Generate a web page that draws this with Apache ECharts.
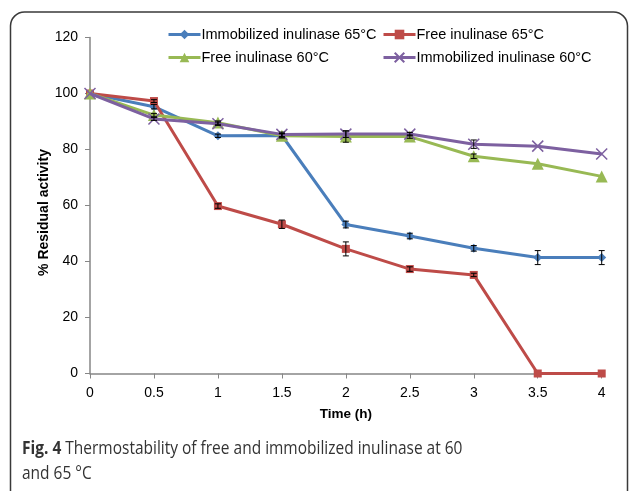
<!DOCTYPE html>
<html>
<head>
<meta charset="utf-8">
<script src="https://cdn.jsdelivr.net/npm/echarts@6/dist/echarts.min.js"></script>
<style>
  html, body { margin: 0; padding: 0; background: #fff; }
  #chart { width: 629px; height: 491px; }
</style>
</head>
<body>
<div id="chart"></div>
<script>
// Time points (h)
const times = [0, 0.5, 1, 1.5, 2, 2.5, 3, 3.5, 4];

// % residual activity for each preparation
const immob65 = [100, 95.3, 84.9, 85, 53.2, 49.1, 44.7, 41.4, 41.4];
const free65  = [100, 97.3, 59.8, 53.3, 44.5, 37.3, 35.2, 0, 0];
const free60  = [100, 92.3, 89.6, 84.9, 84.6, 84.6, 77.6, 74.9, 70.4];
const immob60 = [100, 90.9, 89.2, 85.4, 85.5, 85.5, 81.9, 81.2, 78.4];

// Standard deviations (error bars)
const immob65Err = [0, 0.8, 0.6, 0.6, 1.2, 1.0, 1.0, 2.5, 2.5];
const free65Err  = [0, 0.5, 0.8, 1.5, 2.5, 0.8, 0.6, 0, 0];
const free60Err  = [0, 0.6, 0.6, 0.8, 2.0, 0.6, 0.8, 0, 0];
const immob60Err = [0, 0.5, 0.6, 0.8, 1.2, 0.6, 1.5, 0, 0];

const seriesNames = ['Immobilized inulinase 65°C', 'Free inulinase 65°C', 'Free inulinase 60°C', 'Immobilized inulinase 60°C'];
const seriesColors = ['#4a7ebb', '#be4b48', '#98b954', '#7d60a0'];
const yTicks = [0, 20, 40, 60, 80, 100, 120];
const xTicks = ['0', '0.5', '1', '1.5', '2', '2.5', '3', '3.5', '4'];

const chart = echarts.init(document.getElementById('chart'), null, { renderer: 'canvas' });

const pairs = (vals) => times.map((t, i) => [t, vals[i]]);
const errData = (vals, errs) => times.map((t, i) => [t, vals[i] - errs[i], vals[i] + errs[i]]).filter((d, i) => errs[i] > 0);

const crossPath = 'path://M0,0L10,10M10,0L0,10';
const sansFont = 'Liberation Sans, Arial, sans-serif';

function lineSeries(idx, vals, symbol, size, extra) {
  return Object.assign({
    name: seriesNames[idx],
    type: 'line',
    data: pairs(vals),
    symbol: symbol,
    symbolSize: size,
    color: seriesColors[idx],
    lineStyle: { width: 3, color: seriesColors[idx] },
    itemStyle: { color: seriesColors[idx] },
    z: 2 + idx
  }, extra || {});
}

function errorSeries(vals, errs) {
  return {
    type: 'custom',
    silent: true,
    z: 10,
    data: errData(vals, errs),
    renderItem: function (params, api) {
      const x = api.value(0);
      const lo = api.coord([x, api.value(1)]);
      const hi = api.coord([x, api.value(2)]);
      const cap = 3;
      const style = { stroke: '#000', lineWidth: 1 };
      return {
        type: 'group',
        children: [
          { type: 'line', shape: { x1: lo[0], y1: lo[1], x2: hi[0], y2: hi[1] }, style: style },
          { type: 'line', shape: { x1: lo[0] - cap, y1: lo[1], x2: lo[0] + cap, y2: lo[1] }, style: style },
          { type: 'line', shape: { x1: hi[0] - cap, y1: hi[1], x2: hi[0] + cap, y2: hi[1] }, style: style }
        ]
      };
    }
  };
}

function legendAt(name, left, top) {
  return {
    data: [name],
    left: left,
    top: top,
    itemWidth: 32,
    itemHeight: 12,
    itemGap: 0,
    padding: 0,
    lineStyle: { width: 3 },
    textStyle: { fontFamily: sansFont, fontSize: 14.5, color: '#000', padding: [0, 0, 0, -4] }
  };
}

const axisFont = { fontFamily: sansFont, fontSize: 14, color: '#000' };

chart.setOption({
  animation: false,
  backgroundColor: '#fff',
  grid: { left: 90, right: 27.3, top: 37.5, bottom: 117.5, containLabel: false },
  legend: [
    legendAt(seriesNames[0], 167, 27),
    legendAt(seriesNames[1], 382, 27),
    legendAt(seriesNames[2], 167, 50),
    legendAt(seriesNames[3], 382, 50)
  ],
  xAxis: {
    type: 'value',
    min: 0, max: 4, interval: 0.5,
    axisLine: { lineStyle: { color: '#868686', width: 1.5 } },
    axisTick: { show: true, length: 5, lineStyle: { color: '#868686' } },
    axisLabel: Object.assign({ margin: 13, formatter: (v) => xTicks[Math.round(v * 2)] }, axisFont),
    splitLine: { show: false },
    name: 'Time (h)',
    nameLocation: 'middle',
    nameGap: 34,
    nameTextStyle: { fontFamily: sansFont, fontSize: 13.5, fontWeight: 'bold', color: '#000' }
  },
  yAxis: {
    type: 'value',
    min: 0, max: 120, interval: 20,
    axisLine: { show: true, lineStyle: { color: '#868686', width: 1.5 } },
    axisTick: { show: true, length: 5, lineStyle: { color: '#868686' } },
    axisLabel: Object.assign({ margin: 12, formatter: (v) => String(yTicks[Math.round(v / 20)]) }, axisFont),
    splitLine: { show: false }
  },
  graphic: [
    {
      type: 'rect',
      shape: { x: 10.5, y: 12, width: 617, height: 520, r: 14 },
      style: { fill: 'none', stroke: '#3a3a3a', lineWidth: 1.5 },
      z: 100
    },
    {
      // y-axis title
      type: 'text',
      x: 44,
      y: 212.5,
      rotation: Math.PI / 2,
      style: {
        text: '% Residual activity',
        fontFamily: sansFont,
        fontSize: 14,
        fontWeight: 'bold',
        fill: '#000',
        align: 'center',
        verticalAlign: 'middle'
      },
      z: 100
    },
    {
      // figure caption
      type: 'text',
      x: 22,
      y: 437,
      scaleX: 0.885,
      style: {
        text: '{b|Fig. 4} Thermostability of free and immobilized inulinase at 60\nand 65 °C',
        fontFamily: 'Open Sans, sans-serif',
        fontSize: 17.5,
        lineHeight: 25,
        fill: '#333',
        rich: {
          b: { fontFamily: 'Open Sans, sans-serif', fontSize: 17.5, fontWeight: 'bold', fill: '#333' }
        }
      },
      z: 100
    }
  ],
  series: [
    lineSeries(0, immob65, 'diamond', 9),
    lineSeries(1, free65, 'rect', 8),
    lineSeries(2, free60, 'triangle', 12),
    lineSeries(3, immob60, crossPath, 11, {
      itemStyle: { color: seriesColors[3], borderColor: seriesColors[3], borderWidth: 1.5 }
    }),
    errorSeries(immob65, immob65Err),
    errorSeries(free65, free65Err),
    errorSeries(free60, free60Err),
    errorSeries(immob60, immob60Err)
  ]
});
</script>
</body>
</html>
